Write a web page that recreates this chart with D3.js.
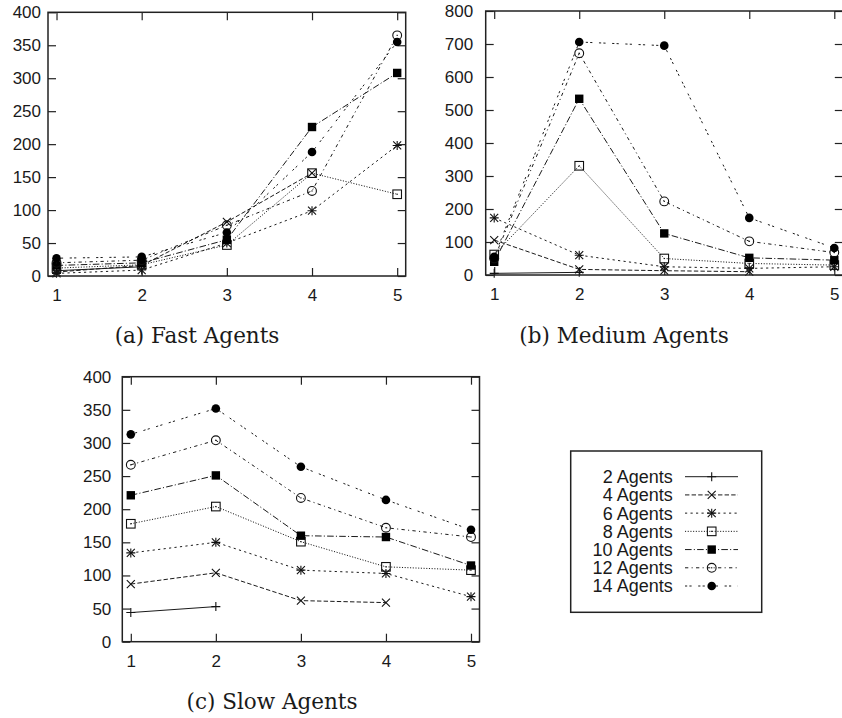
<!DOCTYPE html>
<html lang="en">
<head>
<meta charset="utf-8">
<title>Agents</title>
<style type="text/css">
body { margin: 0; background: #fff; }
.tick text { font-family: "Liberation Sans", Arial, sans-serif; font-size: 17px; fill: #1a1a1a; }
.tick line { stroke: #222; stroke-width: 1.2; }
.frame { fill: none; stroke: #222; stroke-width: 1.5; }
.series { fill: none; stroke: #1a1a1a; stroke-width: 1; }
.caption { font-family: "DejaVu Serif", serif; font-size: 21.5px; fill: #1a1a1a; }
.legend text { font-family: "Liberation Sans", Arial, sans-serif; font-size: 18px; fill: #1a1a1a; }
</style>
<script type="text/javascript" src="https://cdn.jsdelivr.net/npm/d3@7"></script>
</head>

<body>

<script type="text/javascript">
var w = 842;
var h = 718;

// data
var xValues = [1, 2, 3, 4, 5];
var seriesNames = ["2 Agents", "4 Agents", "6 Agents", "8 Agents", "10 Agents", "12 Agents", "14 Agents"];

var fastAgents = [
  [8, 14],
  [6, 16, 82, 156],
  [4, 9, 50, 99, 198],
  [12, 17, 47, 156, 124],
  [16, 20, 55, 226, 308],
  [20, 24, 77, 129, 365],
  [27, 29, 66, 188, 355]
];
var mediumAgents = [
  [5, 8],
  [106, 17, 13, 10],
  [173, 60, 25, 20, 25],
  [62, 331, 50, 35, 30],
  [40, 534, 126, 52, 45],
  [50, 672, 223, 102, 68],
  [55, 706, 695, 173, 82]
];
var slowAgents = [
  [44, 53],
  [87, 104, 62, 59],
  [134, 150, 108, 103, 68],
  [178, 204, 151, 113, 108],
  [221, 251, 160, 158, 115],
  [267, 304, 217, 172, 158],
  [313, 352, 264, 214, 169]
];

var fastTicks = [0, 50, 100, 150, 200, 250, 300, 350, 400];
var mediumTicks = [0, 100, 200, 300, 400, 500, 600, 700, 800];
var slowTicks = [0, 50, 100, 150, 200, 250, 300, 350, 400];
var captions = ["(a) Fast Agents", "(b) Medium Agents", "(c) Slow Agents"];

// gnuplot style line types and point types
var dashes = [null, "4.4,2.2", "2.2,3.3", "1.1,1.6", "6.6,2.2,1.1,2.2", "3.3,3.3,1.1,3.3", "2.2,2.2,2.2,6.6"];
var points = ["plus", "cross", "star", "box", "fbox", "circle", "fcircle"];

var svg = d3.select("body")
            .append("svg")
            .attr("width", w)
            .attr("height", h);

var panels = [
  {data: fastAgents, ticks: fastTicks, ymax: 400, left: 48, right: 405.7, top: 12.3, bottom: 276, pad: 7, cap: captions[0], cx: 197, cy: 343},
  {data: mediumAgents, ticks: mediumTicks, ymax: 800, left: 485.7, right: 842.8, top: 11, bottom: 275, pad: 12.5, cap: captions[1], cx: 624, cy: 343},
  {data: slowAgents, ticks: slowTicks, ymax: 400, left: 122.3, right: 479.5, top: 376.7, bottom: 641.7, pad: 11, cap: captions[2], cx: 272, cy: 709}
];

function marker(g, type, cx, cy) {
  var m = g.append("g").attr("transform", "translate(" + cx + "," + cy + ")");
  if (type == "plus" || type == "star") {
    m.append("path").attr("d", "M-4.5,0H4.5M0,-4.5V4.5").attr("stroke", "#111").attr("stroke-width", 1.1);
  }
  if (type == "cross" || type == "star") {
    m.append("path").attr("d", "M-4,-4L4,4M-4,4L4,-4").attr("stroke", "#111").attr("stroke-width", 1.1);
  }
  if (type == "box") {
    m.append("rect").attr("x", -4.3).attr("y", -4.3).attr("width", 8.6).attr("height", 8.6)
     .attr("fill", "none").attr("stroke", "#111").attr("stroke-width", 1.1);
    m.append("rect").attr("x", -0.6).attr("y", -0.6).attr("width", 1.2).attr("height", 1.2).attr("fill", "#111");
  }
  if (type == "fbox") {
    m.append("rect").attr("x", -4.2).attr("y", -4.2).attr("width", 8.4).attr("height", 8.4).attr("fill", "#000");
  }
  if (type == "circle") {
    m.append("circle").attr("r", 4.4).attr("fill", "none").attr("stroke", "#111").attr("stroke-width", 1.1);
    m.append("rect").attr("x", -0.6).attr("y", -0.6).attr("width", 1.2).attr("height", 1.2).attr("fill", "#111");
  }
  if (type == "fcircle") {
    m.append("circle").attr("r", 4.3).attr("fill", "#000");
  }
}

panels.forEach(function(p) {
  var x = d3.scaleLinear().domain([0.9, 5.1]).range([p.left, p.right]);
  var y = d3.scaleLinear().domain([0, p.ymax]).range([p.bottom, p.top]);
  var g = svg.append("g");

  g.append("g").attr("transform", "translate(" + p.left + ",0)")
   .call(d3.axisLeft(y).tickValues(p.ticks).tickSize(-8).tickPadding(p.pad));
  g.append("g").attr("transform", "translate(" + p.right + ",0)")
   .call(d3.axisRight(y).tickValues(p.ticks).tickSize(-8).tickFormat(""));
  g.append("g").attr("transform", "translate(0," + p.bottom + ")")
   .call(d3.axisBottom(x).tickValues(xValues).tickSize(-8).tickPadding(13).tickFormat(d3.format("d")));
  g.append("g").attr("transform", "translate(0," + p.top + ")")
   .call(d3.axisTop(x).tickValues(xValues).tickSize(-8).tickFormat(""));
  g.selectAll(".domain").remove();

  var line = d3.line()
               .x(function(d, i) { return x(xValues[i]); })
               .y(function(d) { return y(d); });

  p.data.forEach(function(s, k) {
    g.append("path")
     .attr("class", "series")
     .attr("d", line(s))
     .attr("stroke-dasharray", dashes[k]);
  });
  p.data.forEach(function(s, k) {
    s.forEach(function(v, i) {
      marker(g, points[k], x(xValues[i]), y(v));
    });
  });

  g.append("rect").attr("class", "frame")
   .attr("x", p.left).attr("y", p.top)
   .attr("width", p.right - p.left).attr("height", p.bottom - p.top);

  svg.append("text").attr("class", "caption")
     .attr("x", p.cx).attr("y", p.cy)
     .attr("text-anchor", "middle")
     .text(p.cap);
});

// legend
var legend = svg.append("g").attr("class", "legend");
legend.append("rect")
      .attr("x", 570.7).attr("y", 451)
      .attr("width", 191).attr("height", 161.3)
      .attr("fill", "none").attr("stroke", "#222").attr("stroke-width", 1.5);

var rowY = d3.scalePoint().domain(seriesNames).range([476.7, 586]);

seriesNames.forEach(function(name, k) {
  var ry = rowY(name);
  legend.append("text")
        .attr("x", 672.7).attr("y", ry).attr("dy", "0.36em")
        .attr("text-anchor", "end")
        .text(name);
  legend.append("line")
        .attr("class", "series")
        .attr("x1", 685).attr("x2", 738).attr("y1", ry).attr("y2", ry)
        .attr("stroke-dasharray", dashes[k]);
  marker(legend, points[k], 711.7, ry);
});
</script>
</body>
</html>
